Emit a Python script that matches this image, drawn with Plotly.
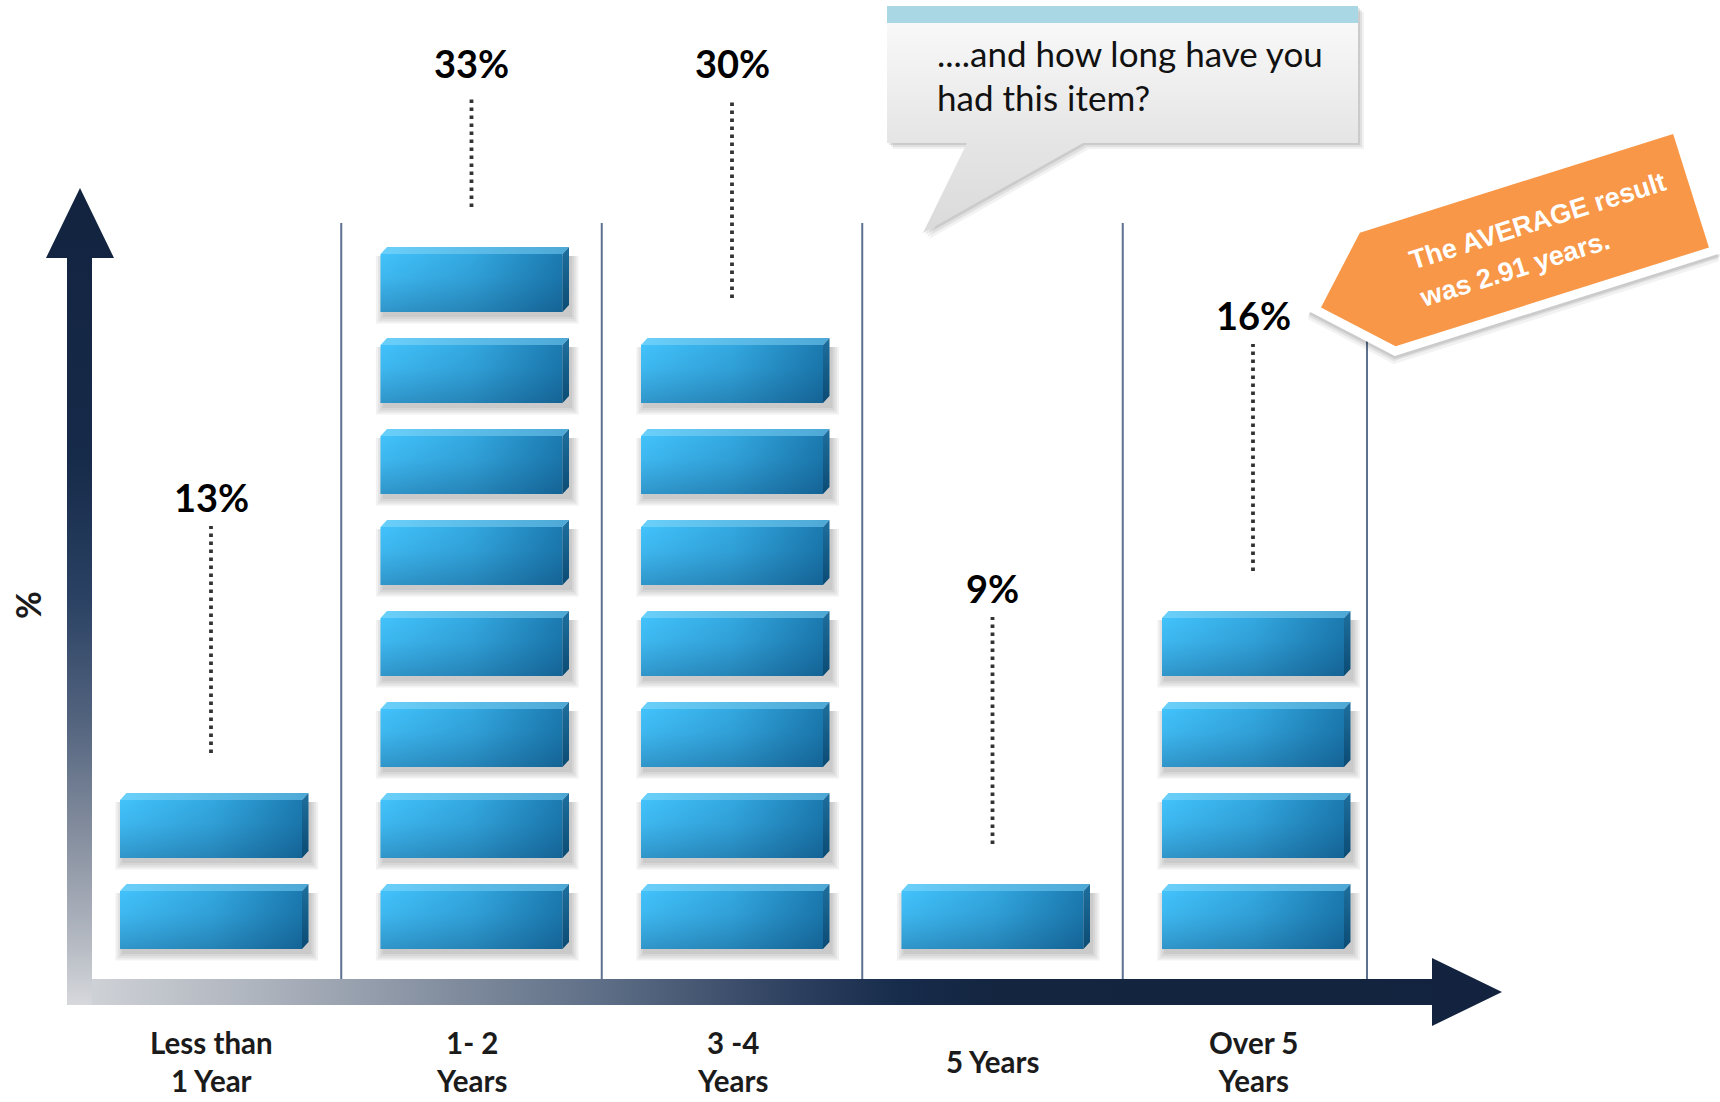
import math
import plotly.graph_objects as go

# ---------------- data ----------------
categories = ["Less than<br>1 Year", "1- 2<br>Years", "3 -4<br>Years", "5 Years", "Over 5<br>Years"]
share_pct = [13, 33, 30, 9, 16]
block_count = [2, 8, 7, 1, 4]
question_lines = ["....and how long have you", "had this item?"]
average_lines = ["The AVERAGE result", "was 2.91 years."]
value_axis_title = "%"

# ---------------- page / scale ----------------
W, H = 1720, 1102
X_ORIGIN, X_STEP = 211.0, 260.5    # pixel x of category 0, pixels per category
Y_ORIGIN, Y_STEP = 949.0, 91.0     # pixel y of block baseline, pixels per block level


def dx(px):
    return px / X_STEP


def dy(px):
    return px / Y_STEP


x_range = [-X_ORIGIN / X_STEP, (W - X_ORIGIN) / X_STEP]
y_range = [(Y_ORIGIN - H) / Y_STEP, Y_ORIGIN / Y_STEP]

HALF_W = dx(91)
FACE_H = dy(58)
DEPTH_X = dx(6.5)
DEPTH_Y = dy(7)

fig = go.Figure()


def area(xs, ys, overlay=False, **style):
    axes = dict(xaxis="x2", yaxis="y2") if overlay else dict(xaxis="x", yaxis="y")
    fig.add_trace(go.Scatter(x=xs, y=ys, mode="lines", fill="toself",
                             line=dict(width=0), hoverinfo="skip",
                             showlegend=False, **axes, **style))


# ---------------- block shadows ----------------
for j in range(4):
    grow = 1 + 2.2 * j
    xs, ys = [], []
    for i, n in enumerate(block_count):
        for k in range(n):
            x0 = i - HALF_W + dx(3 - grow)
            x1 = i + HALF_W + DEPTH_X + dx(2 + grow)
            y0 = k - dy(4 + grow)
            y1 = k + FACE_H - dy(2)
            xs += [x0, x1, x1, x0, x0, None]
            ys += [y0, y0, y1, y1, y0, None]
    area(xs, ys, fillcolor="rgba(0,0,0,0.055)")

# ---------------- 3D blocks ----------------
for i, n in enumerate(block_count):
    for k in range(n):
        x0, x1 = i - HALF_W, i + HALF_W
        y0, y1 = k, k + FACE_H
        # front face
        area([x0, x1, x1, x0, x0], [y0, y0, y1, y1, y0],
             fillgradient=dict(type="horizontal",
                               colorscale=[[0, "#42c2fb"], [0.5, "#33a8e0"], [1, "#1b7ab0"]]))
        # shading toward the bottom edge
        area([x0, x1, x1, x0, x0], [y0, y0, y1, y1, y0],
             fillgradient=dict(type="vertical",
                               colorscale=[[0, "rgba(6,46,86,0.30)"], [0.6, "rgba(6,46,86,0.07)"],
                                           [1, "rgba(6,46,86,0)"]]))
        # top bevel
        area([x0, x0 + DEPTH_X, x1 + DEPTH_X, x1, x0],
             [y1, y1 + DEPTH_Y, y1 + DEPTH_Y, y1, y1],
             fillgradient=dict(type="horizontal", colorscale=[[0, "#6ad0fa"], [1, "#4ea8d6"]]))
        # right side
        area([x1, x1 + DEPTH_X, x1 + DEPTH_X, x1, x1],
             [y0, y0 + DEPTH_Y, y1 + DEPTH_Y, y1, y0],
             fillgradient=dict(type="vertical", colorscale=[[0, "#0b4b73"], [1, "#1e6f9e"]]))

# ---------------- column dividers ----------------
divider_x = [i + 0.5 for i in range(len(categories) - 1)] + [len(categories) - 1 + dx(114)]
shapes = []
for xv in divider_x:
    shapes.append(dict(type="line", xref="x", yref="paper", x0=xv, x1=xv,
                       y0=1 - 979 / H, y1=1 - 223 / H, layer="below",
                       line=dict(color="#5d7190", width=2)))

# ---------------- leaders and value labels ----------------
LEADER_GAP = dy(40)
LEADER_LEN = dy(227)
LEADER_TOP_MAX = (Y_ORIGIN - 98) / Y_STEP
LABEL_ROW_TOP = (Y_ORIGIN - 63) / Y_STEP
LABEL_RISE = dy(29)
annotations = []
for i, (v, n) in enumerate(zip(share_pct, block_count)):
    stack_top = (n - 1) + FACE_H + DEPTH_Y
    lb = stack_top + LEADER_GAP
    lt = lb + LEADER_LEN
    if lt > LEADER_TOP_MAX:
        lt, label_y = LEADER_TOP_MAX, LABEL_ROW_TOP
    else:
        label_y = lt + LABEL_RISE
    shapes.append(dict(type="line", xref="x", yref="y", x0=i, x1=i, y0=lb, y1=lt,
                       line=dict(color="#333333", width=3.8, dash="3.6px,4.4px")))
    annotations.append(dict(xref="x", yref="y", x=i, y=label_y, text=f"{v}%",
                            showarrow=False, xanchor="center", yanchor="middle",
                            font=dict(family="Lato", size=38, color="#000000", weight="bold")))

# ---------------- category labels ----------------
for i, c in enumerate(categories):
    annotations.append(dict(xref="x", yref="paper", x=i, y=1 - 1061 / H, text=c,
                            showarrow=False, xanchor="center", yanchor="middle",
                            font=dict(family="Lato", size=29.5, color="#1b1b1b", weight="bold")))

annotations.append(dict(xref="paper", yref="paper", x=27 / W, y=1 - 605 / H,
                        text=value_axis_title, textangle=-90, showarrow=False,
                        xanchor="center", yanchor="middle",
                        font=dict(family="Lato", size=34, color="#1b1b1b", weight="bold")))

# ---------------- axis arrows (page pixels) ----------------
area([67, 67, 46, 80, 114, 92, 92, 67], [1005, 258, 258, 188, 258, 258, 1005, 1005], overlay=True,
     fillgradient=dict(type="vertical", start=188, stop=1005,
                       colorscale=[[0, "#12233f"], [0.33, "#162a49"], [0.5, "#2a4163"],
                                   [0.65, "#52637e"], [0.8, "#8891a1"], [0.92, "#b3b8c1"],
                                   [1, "#d6d8dc"]]))
area([92, 1432, 1432, 1502, 1432, 1432, 92, 92], [979, 979, 958, 992, 1026, 1005, 1005, 979], overlay=True,
     fillgradient=dict(type="horizontal", start=67, stop=1502,
                       colorscale=[[0, "#d3d6da"], [0.14, "#acb2bc"], [0.37, "#5f6f87"],
                                   [0.51, "#2c3f5e"], [0.58, "#172b4b"], [0.65, "#13253f"],
                                   [1, "#13233f"]]))

# ---------------- speech bubble ----------------
bub_x = [887, 1358, 1358, 1083, 923, 967, 887, 887]
bub_y = [6, 6, 143, 143, 233, 143, 143, 6]
for off, alpha in [(6, 0.05), (4, 0.07), (2, 0.09)]:
    area([p + off for p in bub_x], [p + off for p in bub_y], overlay=True,
         fillcolor=f"rgba(0,0,0,{alpha})")
area(bub_x, bub_y, overlay=True,
     fillgradient=dict(type="vertical", start=6, stop=233,
                       colorscale=[[0, "#fbfbfb"], [0.6, "#e5e5e5"], [1, "#dadada"]]))
area([887, 1358, 1358, 887, 887], [6, 6, 23, 23, 6], overlay=True, fillcolor="#aad7e4")
for line_text, cy in zip(question_lines, [52.5, 96.5]):
    annotations.append(dict(xref="x2", yref="y2", x=935, y=cy, text=line_text, showarrow=False,
                            xanchor="left", yanchor="middle",
                            font=dict(family="Lato", size=35, color="#111111")))

# ---------------- rotated average callout ----------------
ANG = math.radians(17.5)
U = (math.cos(ANG), -math.sin(ANG))
P = (math.sin(ANG), math.cos(ANG))
TIP = (1321.0, 307.4)


def to_page(s, t):
    return TIP[0] + s * U[0] + t * P[0], TIP[1] + s * U[1] + t * P[1]


def local_poly(pts, shift=(0, 0)):
    xs, ys = [], []
    for s, t in pts + [pts[0]]:
        px, py = to_page(s, t)
        xs.append(px + shift[0])
        ys.append(py + shift[1])
    return xs, ys


b = 9
outer = [(-b * math.sqrt(2), 0), (59.5 + b - b * math.sqrt(2), -59.5 - b), (388 + b, -59.5 - b),
         (388 + b, 59.5 + b), (59.5 + b - b * math.sqrt(2), 59.5 + b)]
inner = [(0, 0), (59.5, -59.5), (388, -59.5), (388, 59.5), (59.5, 59.5)]
for sh, alpha in [((-1, 8), 0.05), ((-1, 5), 0.07), ((0, 3), 0.09)]:
    xs, ys = local_poly(outer, sh)
    area(xs, ys, overlay=True, fillcolor=f"rgba(0,0,0,{alpha})")
xs, ys = local_poly(outer)
area(xs, ys, overlay=True, fillcolor="#ffffff")
xs, ys = local_poly(inner)
area(xs, ys, overlay=True, fillcolor="#f79747")

FS = 27
line_w = [10.0 * FS, 7.283 * FS]
for line_text, w, base_t in zip(average_lines, line_w, [-8, 31.5]):
    cx, cy = to_page(98 + w / 2, base_t - 0.35 * FS)
    annotations.append(dict(xref="x2", yref="y2", x=cx, y=cy, text=line_text, showarrow=False,
                            textangle=-17.5, xanchor="center", yanchor="middle",
                            font=dict(family="Liberation Sans", size=FS, color="#ffffff",
                                      weight="bold")))

# ---------------- layout ----------------
fig.update_layout(
    width=W, height=H, autosize=False,
    margin=dict(l=0, r=0, t=0, b=0),
    paper_bgcolor="#ffffff", plot_bgcolor="rgba(0,0,0,0)",
    xaxis=dict(range=x_range, visible=False, fixedrange=True, domain=[0, 1]),
    yaxis=dict(range=y_range, visible=False, fixedrange=True, domain=[0, 1]),
    xaxis2=dict(range=[0, W], visible=False, fixedrange=True, overlaying="x", anchor="y2"),
    yaxis2=dict(range=[H, 0], visible=False, fixedrange=True, overlaying="y", anchor="x2"),
    shapes=shapes, annotations=annotations, showlegend=False,
)

fig.write_html("out.html", config=dict(displayModeBar=False))
